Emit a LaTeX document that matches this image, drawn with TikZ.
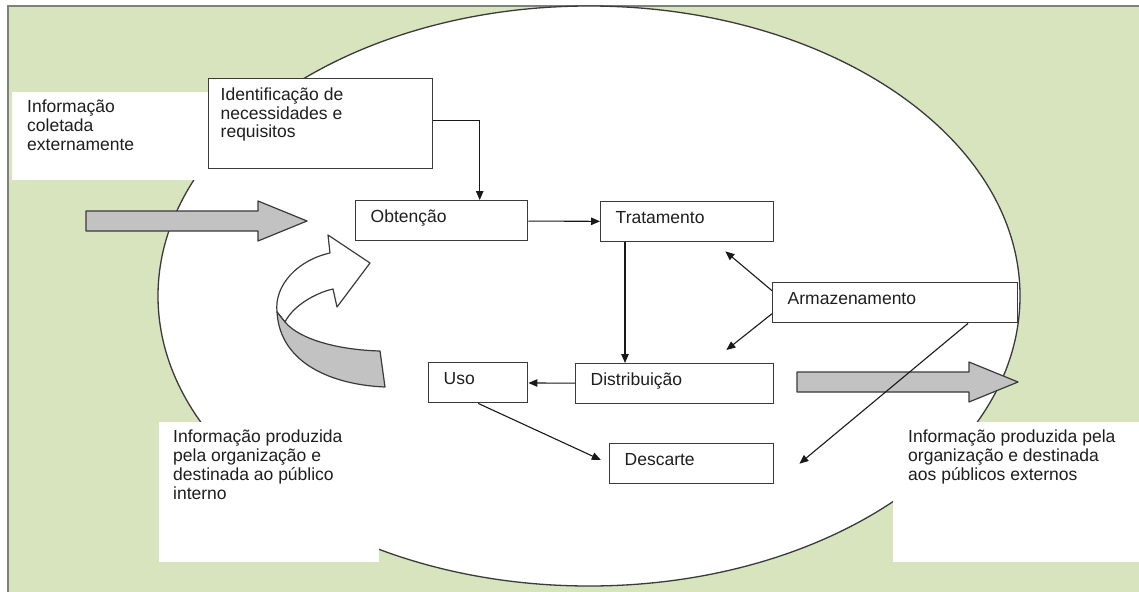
\documentclass[tikz,border=0pt]{standalone}
\usepackage{fontspec}
\setmainfont{Liberation Sans}
\usetikzlibrary{arrows.meta,calc}
\definecolor{bggreen}{HTML}{D7E4BD}
\definecolor{edge}{HTML}{3A3A3A}
\definecolor{ink}{HTML}{1E1E1E}
\definecolor{blockgray}{HTML}{C2C2C2}
\begin{document}
\begin{tikzpicture}[x=1pt,y=-1pt,
  every node/.style={font=\fontsize{17.5}{18.8}\selectfont, text=ink},
  stage/.style={draw=edge, line width=1.4pt, fill=white, anchor=north west,
    align=left, inner xsep=15pt, inner ysep=0pt, text height=12pt,
    text depth=9pt, minimum height=40pt},
  note/.style={fill=white, anchor=north west, inner ysep=8pt},
  conn/.style={draw=black!90, line width=1.1pt, -{Triangle[length=9pt,width=7.5pt]}},
  block/.style={draw=edge, line width=1.2pt, fill=blockgray, line join=round}
]
\useasboundingbox (0,0) rectangle (1139,591);

% background panel with its frame
\fill[bggreen] (8,6) rectangle (1160,610);
\draw[gray, line width=1.4pt] (8,610) -- (8,6) -- (1160,6);

% the organisation
\draw[draw=edge, line width=1.3pt, fill=white] (589,296) ellipse [x radius=431pt, y radius=290pt];

% text panels
\node[note, inner xsep=15pt] (extin) at (12,92)
  {\parbox[c][72pt][t]{166pt}{\raggedright Informação\\coletada\\externamente}};
\node[note, inner xsep=14pt] (intout) at (159,422)
  {\parbox[c][124pt][t]{192pt}{\raggedright Informação produzida\\pela organização e\\destinada ao público\\interno}};
\node[note, inner xsep=15pt] (extout) at (893,422)
  {\parbox[c][124pt][t]{222pt}{\raggedright Informação produzida pela\\organização e destinada\\aos públicos externos}};

% incoming and outgoing flows
\draw[block] (86,211) -- (258,211) -- (258,201) -- (307,221) -- (258,241)
  -- (258,231) -- (86,231) -- cycle;
\draw[block] (797,372) -- (969,372) -- (969,362) -- (1018,382) -- (969,402)
  -- (969,392) -- (797,392) -- cycle;

% internal loop arrow
\draw[block, fill=white] (277,312) .. controls (274,285) and (298,260) .. (330,253)
  -- (328,235) -- (370,263) -- (337,307) -- (333,289)
  .. controls (315,293) and (293,306) .. (285,322) -- cycle;
\draw[block] (285,322) .. controls (300,340) and (340,350) .. (380,351)
  -- (385,387) .. controls (335,385) and (280,365) .. (277,312) -- cycle;

% process stages
\node[draw=edge, line width=1.4pt, fill=white, anchor=north west,
  inner xsep=12pt, inner ysep=9pt] (idn) at (208,78)
  {\parbox[c][72pt][t]{200pt}{\raggedright Identificação de\\necessidades e\\requisitos}};
\node[stage, text width=142pt] (obt) at (355,200) {Obtenção};
\node[stage, text width=143pt] (tra) at (600,201) {Tratamento};
\node[stage, text width=215pt] (arm) at (772,282) {Armazenamento};
\node[stage, text width=168pt] (dis) at (575,363) {Distribuição};
\node[stage, text width=69pt] (uso) at (428,362) {Uso};
\node[stage, text width=134pt] (des) at (609,443) {Descarte};

% connectors
\coordinate (tdx) at ($(tra.south west)+(25,0)$);
\draw[conn] ([yshift=3pt]idn.east) -| ([xshift=38pt]obt.north);
\draw[conn] (obt) -- (tra);
\draw[conn] (tdx) -- (tdx |- dis.north);
\draw[conn] (dis) -- (uso);
\draw[conn, shorten >=9pt] (uso.south) -- (des.west);
\draw[conn] ([yshift=12pt]arm.west) -- ($(tra.south east)+(-49,9)$);
\draw[conn] ([yshift=-11pt]arm.west) -- ($(dis.north east)+(-48,-13)$);
\draw[conn] ($(arm.south west)+(196,0)$) -- ($(des.east)+(25,0)$);
\end{tikzpicture}
\end{document}
